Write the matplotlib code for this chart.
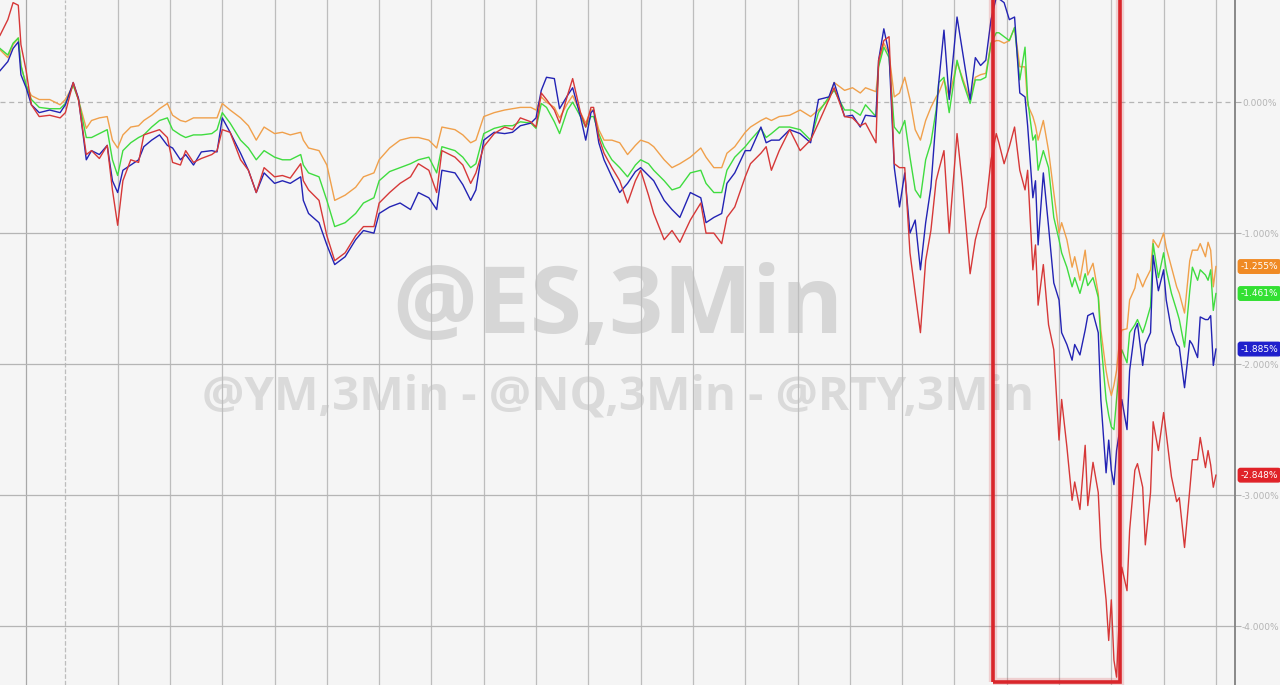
import matplotlib
matplotlib.use("Agg")
import matplotlib.pyplot as plt
from matplotlib.patches import Rectangle

# 3-minute bar number (shared x for all four futures)
bars = [0, 3, 5, 7, 8, 10, 12, 15, 19, 23, 25, 28, 30, 33, 35, 38, 41, 43, 45, 47,
        50, 53, 55, 58, 61, 64, 66, 69, 71, 74, 77, 81, 83, 85, 88, 92, 95, 98, 101, 105,
        108, 111, 115, 116, 118, 122, 125, 128, 132, 136, 139, 143, 145, 149, 153, 157, 160, 164, 167, 169,
        174, 177, 180, 182, 185, 189, 193, 196, 199, 203, 205, 207, 209, 212, 214, 217, 219, 222, 224, 226,
        227, 229, 231, 234, 237, 240, 243, 245, 248, 250, 254, 257, 260, 264, 268, 270, 273, 276, 278, 281,
        285, 287, 291, 293, 295, 298, 302, 306, 310, 313, 317, 319, 323, 326, 329, 331, 335, 336, 338, 340,
        342, 344, 346, 348, 350, 352, 354, 356, 358, 359, 361, 363, 366, 368, 371, 373, 375, 377, 379, 381,
        382, 384, 386, 388, 390, 392, 393, 395, 396, 397, 399, 401, 403, 405, 406, 408, 410, 411, 413, 415,
        416, 418, 420, 421, 423, 424, 425, 426, 427, 428, 429, 431, 432, 434, 435, 437, 438, 440, 441, 443,
        445, 446, 448, 450, 451, 453, 455, 456, 458, 459, 461, 462, 463, 464, 465]

# % change, orange series
ym = [0.40, 0.34, 0.44, 0.49, 0.28, 0.13, 0.05, 0.02, 0.02, -0.02, 0.02, 0.13, 0.02, -0.20, -0.14, -0.12, -0.11, -0.29, -0.35, -0.25,
      -0.19, -0.18, -0.14, -0.10, -0.05, -0.01, -0.10, -0.14, -0.15, -0.12, -0.12, -0.12, -0.12, -0.01, -0.06, -0.12, -0.18, -0.29, -0.19, -0.24,
      -0.23, -0.25, -0.23, -0.29, -0.35, -0.37, -0.48, -0.75, -0.71, -0.65, -0.57, -0.54, -0.44, -0.35, -0.29, -0.27, -0.27, -0.29, -0.35, -0.19,
      -0.21, -0.25, -0.31, -0.29, -0.11, -0.08, -0.06, -0.05, -0.04, -0.04, -0.06, 0.04, 0.00, -0.04, -0.12, -0.01, 0.05, -0.08, -0.16, -0.06,
      -0.06, -0.21, -0.29, -0.29, -0.31, -0.40, -0.33, -0.29, -0.31, -0.34, -0.44, -0.50, -0.47, -0.42, -0.35, -0.42, -0.50, -0.50, -0.39, -0.34,
      -0.23, -0.19, -0.14, -0.12, -0.14, -0.11, -0.10, -0.06, -0.11, -0.06, 0.02, 0.15, 0.09, 0.11, 0.07, 0.11, 0.08, 0.28, 0.45, 0.37,
      0.04, 0.07, 0.19, 0.02, -0.21, -0.29, -0.14, -0.04, 0.04, 0.07, 0.17, 0.04, 0.30, 0.19, 0.02, 0.19, 0.21, 0.22, 0.45, 0.47,
      0.47, 0.45, 0.47, 0.57, 0.27, 0.27, -0.02, -0.11, -0.18, -0.29, -0.14, -0.37, -0.69, -1.00, -0.92, -1.05, -1.26, -1.18, -1.36, -1.13,
      -1.32, -1.23, -1.46, -1.74, -2.05, -2.16, -2.24, -2.16, -2.05, -1.85, -1.74, -1.73, -1.51, -1.42, -1.31, -1.41, -1.36, -1.28, -1.05, -1.11,
      -1.00, -1.11, -1.26, -1.41, -1.46, -1.61, -1.21, -1.13, -1.13, -1.08, -1.18, -1.07, -1.13, -1.41, -1.255]

# % change, green series
es = [0.41, 0.36, 0.45, 0.49, 0.28, 0.13, 0.02, -0.04, -0.05, -0.05, -0.01, 0.13, 0.02, -0.27, -0.27, -0.24, -0.21, -0.44, -0.56, -0.37,
      -0.31, -0.27, -0.25, -0.19, -0.14, -0.12, -0.21, -0.25, -0.27, -0.25, -0.25, -0.24, -0.21, -0.08, -0.16, -0.29, -0.35, -0.44, -0.37, -0.42,
      -0.44, -0.44, -0.40, -0.48, -0.54, -0.57, -0.75, -0.95, -0.92, -0.85, -0.77, -0.73, -0.60, -0.53, -0.50, -0.47, -0.44, -0.42, -0.54, -0.34,
      -0.37, -0.42, -0.50, -0.47, -0.24, -0.20, -0.18, -0.18, -0.15, -0.16, -0.20, -0.01, -0.04, -0.15, -0.24, -0.06, 0.00, -0.11, -0.19, -0.11,
      -0.11, -0.24, -0.34, -0.44, -0.50, -0.57, -0.48, -0.44, -0.47, -0.52, -0.60, -0.67, -0.65, -0.54, -0.52, -0.62, -0.69, -0.69, -0.52, -0.42,
      -0.34, -0.29, -0.20, -0.27, -0.24, -0.19, -0.19, -0.21, -0.29, -0.08, 0.04, 0.09, -0.06, -0.06, -0.10, -0.02, -0.11, 0.27, 0.42, 0.34,
      -0.19, -0.24, -0.14, -0.42, -0.67, -0.73, -0.44, -0.31, -0.06, 0.15, 0.19, -0.08, 0.32, 0.17, -0.01, 0.17, 0.17, 0.19, 0.45, 0.53,
      0.53, 0.50, 0.47, 0.57, 0.17, 0.42, 0.02, -0.29, -0.25, -0.52, -0.37, -0.50, -0.88, -1.05, -1.15, -1.26, -1.41, -1.34, -1.46, -1.31,
      -1.40, -1.34, -1.49, -1.82, -2.27, -2.39, -2.48, -2.50, -2.27, -2.05, -1.89, -1.99, -1.76, -1.70, -1.66, -1.76, -1.70, -1.56, -1.08, -1.34,
      -1.15, -1.28, -1.46, -1.59, -1.66, -1.87, -1.44, -1.26, -1.36, -1.28, -1.32, -1.36, -1.28, -1.59, -1.461]

# % change, blue series
nq = [0.24, 0.31, 0.41, 0.46, 0.21, 0.11, -0.02, -0.08, -0.06, -0.08, -0.02, 0.15, 0.03, -0.44, -0.37, -0.40, -0.33, -0.60, -0.69, -0.52,
      -0.48, -0.44, -0.34, -0.29, -0.25, -0.33, -0.35, -0.44, -0.40, -0.48, -0.38, -0.37, -0.38, -0.12, -0.23, -0.39, -0.52, -0.69, -0.54, -0.62,
      -0.60, -0.62, -0.57, -0.75, -0.85, -0.92, -1.09, -1.24, -1.18, -1.05, -0.98, -1.00, -0.85, -0.80, -0.77, -0.82, -0.69, -0.73, -0.82, -0.52,
      -0.54, -0.63, -0.75, -0.67, -0.29, -0.23, -0.24, -0.23, -0.18, -0.16, -0.12, 0.09, 0.19, 0.18, -0.05, 0.05, 0.11, -0.11, -0.29, -0.08,
      -0.06, -0.31, -0.44, -0.57, -0.69, -0.62, -0.53, -0.50, -0.56, -0.60, -0.75, -0.82, -0.88, -0.69, -0.73, -0.92, -0.88, -0.85, -0.62, -0.54,
      -0.37, -0.37, -0.19, -0.31, -0.29, -0.29, -0.21, -0.24, -0.31, 0.02, 0.04, 0.15, -0.11, -0.10, -0.19, -0.10, -0.11, 0.32, 0.56, 0.37,
      -0.50, -0.80, -0.54, -1.00, -0.90, -1.28, -0.92, -0.65, -0.11, 0.15, 0.55, 0.02, 0.65, 0.40, 0.02, 0.34, 0.28, 0.32, 0.63, 0.80,
      0.79, 0.76, 0.63, 0.65, 0.07, 0.04, -0.18, -0.73, -0.60, -1.09, -0.54, -0.95, -1.38, -1.51, -1.76, -1.85, -1.97, -1.85, -1.93, -1.74,
      -1.63, -1.61, -1.76, -2.27, -2.83, -2.58, -2.81, -2.92, -2.66, -2.53, -2.27, -2.50, -2.05, -1.74, -1.69, -2.01, -1.85, -1.76, -1.17, -1.44,
      -1.28, -1.51, -1.74, -1.85, -1.87, -2.18, -1.82, -1.85, -1.95, -1.64, -1.66, -1.66, -1.63, -2.01, -1.885]

# % change, red series
rty = [0.51, 0.63, 0.76, 0.74, 0.44, 0.24, -0.02, -0.11, -0.10, -0.12, -0.08, 0.15, 0.02, -0.40, -0.37, -0.43, -0.33, -0.67, -0.94, -0.60,
       -0.44, -0.46, -0.25, -0.23, -0.21, -0.27, -0.46, -0.48, -0.37, -0.46, -0.43, -0.40, -0.37, -0.21, -0.23, -0.44, -0.52, -0.69, -0.50, -0.57,
       -0.56, -0.58, -0.47, -0.60, -0.67, -0.75, -1.02, -1.21, -1.15, -1.02, -0.95, -0.95, -0.77, -0.69, -0.62, -0.57, -0.47, -0.52, -0.69, -0.37,
       -0.42, -0.48, -0.62, -0.54, -0.34, -0.24, -0.19, -0.21, -0.12, -0.15, -0.19, 0.07, 0.02, -0.06, -0.16, 0.05, 0.18, -0.08, -0.19, -0.04,
       -0.04, -0.27, -0.39, -0.50, -0.60, -0.77, -0.60, -0.52, -0.71, -0.85, -1.05, -0.98, -1.07, -0.90, -0.77, -1.00, -1.00, -1.08, -0.88, -0.80,
       -0.57, -0.47, -0.39, -0.34, -0.52, -0.37, -0.21, -0.37, -0.29, -0.16, 0.02, 0.11, -0.11, -0.12, -0.18, -0.16, -0.31, 0.32, 0.47, 0.50,
       -0.47, -0.50, -0.50, -1.15, -1.46, -1.76, -1.21, -0.98, -0.60, -0.52, -0.37, -1.00, -0.24, -0.62, -1.31, -1.05, -0.90, -0.80, -0.44, -0.24,
       -0.31, -0.47, -0.34, -0.19, -0.52, -0.67, -0.52, -1.28, -1.09, -1.55, -1.24, -1.70, -1.89, -2.58, -2.27, -2.63, -3.04, -2.90, -3.11, -2.62,
       -3.08, -2.75, -2.98, -3.40, -3.80, -4.11, -3.80, -4.26, -4.39, -3.95, -3.55, -3.73, -3.27, -2.81, -2.76, -2.94, -3.38, -2.98, -2.44, -2.66,
       -2.37, -2.53, -2.86, -3.05, -3.02, -3.40, -2.96, -2.73, -2.73, -2.56, -2.79, -2.66, -2.77, -2.94, -2.848]

series = [ym, es, nq, rty]
line_colors = ["#f0a04b", "#3fdc3f", "#2323b4", "#d63838"]
tag_colors = ["#f08a24", "#33e033", "#1f1fcc", "#e02228"]
last_labels = ["-1.255%", "-1.461%", "-1.885%", "-2.848%"]

y_ticks = [0, -1, -2, -3, -4]
y_tick_labels = ["0.000%", "-1.000%", "-2.000%", "-3.000%", "-4.000%"]
hour_lines = list(range(25, 466, 20))
session_open = 10
box_bars = (379.7, 428.3)

bg = "#f5f5f5"
fig = plt.figure(figsize=(12.8, 6.85), dpi=100, facecolor=bg)
ax = fig.add_axes([0, 0, 1235 / 1280, 1])
ax.set_facecolor(bg)
ax.set_xlim(0, 472.3)
ax.set_ylim(-4.45, 0.78)

# watermark
ax.text(0.5, 0.55, "@ES,3Min", transform=ax.transAxes, ha="center", va="center",
        fontsize=68, fontweight="bold", family="Open Sans", color="#d6d6d6", zorder=0)
ax.text(0.5, 0.42, "@YM,3Min - @NQ,3Min - @RTY,3Min", transform=ax.transAxes, ha="center",
        va="center", fontsize=34, fontweight="bold", family="Open Sans", color="#dadada", zorder=0)

# grid
for b in hour_lines:
    ax.axvline(b, color="#bdbdbd", lw=0.9, ls="--" if b == hour_lines[0] else "-", zorder=1)
ax.axvline(session_open, color="#a8a8a8", lw=0.9, zorder=1)
for v in y_ticks:
    ax.axhline(v, color="#b5b5b5", lw=0.9, ls=(0, (4, 3)) if v == 0 else "-", zorder=1)

for vals, c in zip(series, line_colors):
    ax.plot(bars, vals, color=c, lw=1.0, zorder=3)

# highlight box
x0, x1 = box_bars
for lw, a in [(6, 0.18), (2.6, 1.0)]:
    ax.add_patch(Rectangle((x0, -4.427), x1 - x0, 6, fill=False, edgecolor="#d9262b",
                           lw=lw, alpha=a, zorder=4))

# right axis
for s in ["left", "top", "bottom"]:
    ax.spines[s].set_visible(False)
ax.spines["right"].set_color("#808080")
ax.spines["right"].set_linewidth(1.3)
ax.set_xticks([])
ax.yaxis.tick_right()
ax.set_yticks(y_ticks)
ax.set_yticklabels(y_tick_labels)
ax.tick_params(axis="y", direction="out", length=4, width=0.8, color="#b0b0b0",
               labelcolor="#b4b4b4", labelsize=6.5, pad=1)

for vals, lab, c in zip(series, last_labels, tag_colors):
    ax.annotate(lab, xy=(1, vals[-1]), xycoords=("axes fraction", "data"),
                xytext=(4, 0), textcoords="offset points", ha="left", va="center",
                fontsize=6.5, color="white", annotation_clip=False,
                bbox=dict(boxstyle="round,pad=0.25", fc=c, ec=c))

fig.savefig("out.png", dpi=100, facecolor=bg)
